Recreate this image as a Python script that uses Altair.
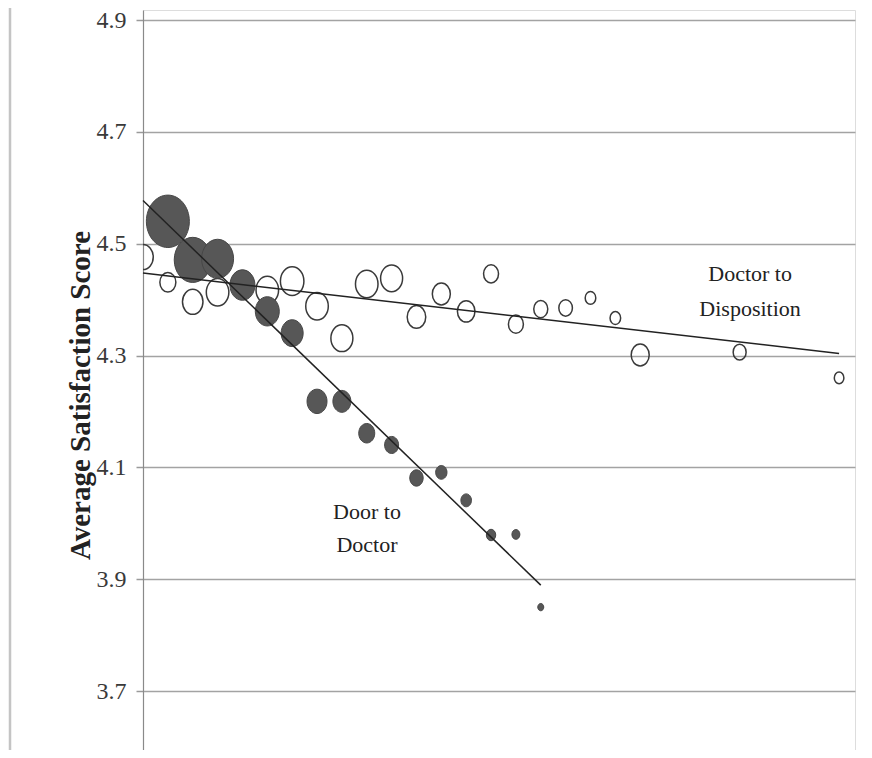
import altair as alt
import pandas as pd

# Door to Doctor (filled bubbles)
door_x = list(range(1, 17))
door_score = [4.540, 4.471, 4.473, 4.426, 4.379, 4.340, 4.218, 4.218,
              4.161, 4.140, 4.081, 4.091, 4.041, 3.979, 3.980, 3.850]
door_n = [462, 342, 256, 156, 144, 121, 100, 81, 64, 49, 45, 32, 28, 22, 16, 9]

# Doctor to Disposition (open bubbles)
disp_x = list(range(0, 21)) + [24, 28]
disp_score = [4.476, 4.431, 4.396, 4.413, 4.428, 4.417, 4.433, 4.388, 4.331,
              4.428, 4.438, 4.369, 4.410, 4.379, 4.446, 4.356, 4.383, 4.385,
              4.403, 4.367, 4.301, 4.306, 4.260]
disp_n = [105, 64, 105, 127, 121, 127, 138, 127, 121, 127, 121, 86, 81, 77,
          56, 56, 49, 46, 28, 28, 81, 42, 23]

y_ticks = [3.7, 3.9, 4.1, 4.3, 4.5, 4.7, 4.9]

label_text = ["Doctor to", "Disposition", "Door to", "Doctor"]
label_x = [24.42, 24.42, 9.01, 9.01]
label_y = [4.4456, 4.383, 4.020, 3.961]

door_df = pd.DataFrame({"interval": door_x, "score": door_score, "n": door_n})
disp_df = pd.DataFrame({"interval": disp_x, "score": disp_score, "n": disp_n})
label_df = pd.DataFrame({"interval": label_x, "score": label_y, "text": label_text})

ELLIPSE = "M -0.82 0 A 0.82 1 0 1 0 0.82 0 A 0.82 1 0 1 0 -0.82 0 Z"

xs = alt.Scale(domain=[0, 28.64], nice=False, zero=False)
ys = alt.Scale(domain=[3.5945, 4.9179], nice=False, zero=False)
ss = alt.Scale(domain=[0, 500], range=[0, 2975])

X = alt.X("interval:Q", scale=xs, axis=None)
Y = alt.Y("score:Q", scale=ys, axis=alt.Axis(
    values=y_ticks, format=".1f", grid=True, gridColor="#a3a3a3", gridWidth=1.5,
    domainColor="#8a8a8a", domainWidth=1.2, tickColor="#9a9a9a", tickSize=7,
    tickWidth=1.5, labelFont="Liberation Serif", labelFontSize=24,
    labelColor="#3a3a3a", labelPadding=10,
    title="Average Satisfaction Score", titleFont="Liberation Serif",
    titleFontSize=29, titleFontWeight="bold", titleColor="#222222",
    titlePadding=1, titleY=385))
Yn = alt.Y("score:Q", scale=ys)

border = alt.Chart(pd.DataFrame({"a": [0]})).mark_rule(
    color="#c4c4c4", strokeWidth=2.5).encode(
    x=alt.value(-133), y=alt.value(-2), y2=alt.value(740))

open_pts = alt.Chart(disp_df).mark_point(
    shape=ELLIPSE, filled=False, stroke="#3a3a3a", strokeWidth=1.5,
    opacity=1, clip=True).encode(
    x=X, y=Y, size=alt.Size("n:Q", scale=ss, legend=None))

dark_pts = alt.Chart(door_df).mark_point(
    shape=ELLIPSE, filled=True, fill="#575757", stroke="#474747",
    strokeWidth=1, opacity=1, clip=True).encode(
    x=X, y=Yn, size=alt.Size("n:Q", scale=ss, legend=None))

disp_line = alt.Chart(disp_df).transform_regression(
    "interval", "score", extent=[0, 28]).mark_line(
    color="#222222", strokeWidth=1.5).encode(x=X, y=Yn)

door_line = alt.Chart(door_df).transform_regression(
    "interval", "score", extent=[0, 16]).mark_line(
    color="#222222", strokeWidth=1.5).encode(x=X, y=Yn)

labels = alt.Chart(label_df).mark_text(
    font="Liberation Serif", fontSize=22, color="#222222",
    align="center", baseline="middle").encode(x=X, y=Yn, text="text:N")

chart = alt.layer(border, open_pts, dark_pts, disp_line, door_line, labels).properties(
    width=712, height=740,
    padding={"left": 135, "top": 2, "right": 5, "bottom": 0},
    autosize="none",
).configure_view(stroke=None).configure(background="white")

chart.save("out.html", embed_options={"renderer": "svg", "actions": False})
